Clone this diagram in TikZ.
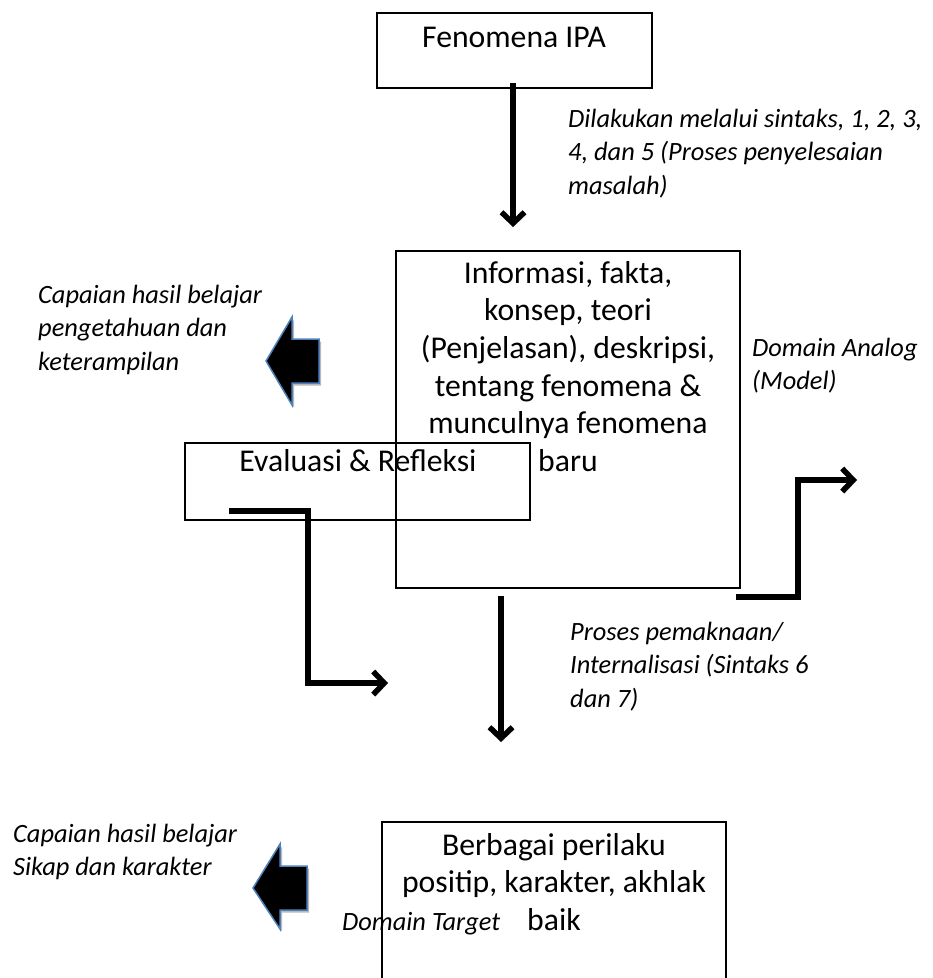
\documentclass[tikz,border=0pt]{standalone}
\usepackage{fontspec}
\setmainfont{Carlito}
\usetikzlibrary{arrows.meta,calc}
\definecolor{arrowblue}{HTML}{4F81BD}
\begin{document}
\begin{tikzpicture}[x=1pt,y=-1pt,
  box/.style={draw, line width=2pt, inner sep=0pt},
  boxfont/.style={font={\fontsize{31.7}{37.7}\selectfont}, inner sep=0pt, anchor=base},
  note/.style={font={\fontsize{26.4}{33.8}\selectfont\itshape}, inner sep=0pt, anchor=base west},
  conn/.style={line width=5.5pt, -{Straight Barb[length=11pt,width=23pt]},
    preaction={draw=black!28, transform canvas={shift={(1.8pt,-2.2pt)}}}},
  bigarrow/.style={fill=black, draw=arrowblue, line width=1.5pt,
    preaction={fill=black!28, draw=none, transform canvas={shift={(2pt,-2.5pt)}}}}
]
\useasboundingbox (0,0) rectangle (933,978);
\clip (0,0) rectangle (933,978);

% boxes
\node[box, minimum width=275pt, minimum height=75pt] (fen) at (514.5,50.5) {};
\node[boxfont] (fentext) at (514,47.5) {Fenomena IPA};

\node[box, minimum width=344pt, minimum height=337pt] (info) at (568,419.5) {};
\node[boxfont] (infotext) at (568,283) {\begin{tabular}[t]{@{}c@{}}Informasi, fakta,\\konsep, teori\\(Penjelasan), deskripsi,\\tentang fenomena \&\\munculnya fenomena\\baru\end{tabular}};

\node[box, minimum width=345pt, minimum height=77pt] (eval) at (357.5,481.5) {};
\node[boxfont] (evaltext) at (358,471) {Evaluasi \& Refleksi};

\node[box, minimum width=344pt, minimum height=170pt] (target) at (554,907) {};
\node[boxfont] (targettext) at (554,855) {\begin{tabular}[t]{@{}c@{}}Berbagai perilaku\\positip, karakter, akhlak\\baik\end{tabular}};

% side notes
\node[note] (n1) at (568,127) {\begin{tabular}[t]{@{}l@{}}Dilakukan melalui sintaks, 1, 2, 3,\\4, dan 5 (Proses penyelesaian\\masalah)\end{tabular}};
\node[note] (n2) at (38,303) {\begin{tabular}[t]{@{}l@{}}Capaian hasil belajar\\pengetahuan dan\\keterampilan\end{tabular}};
\node[note] (n3) at (752,356) {\begin{tabular}[t]{@{}l@{}}Domain Analog\\(Model)\end{tabular}};
\node[note] (n4) at (570,640) {\begin{tabular}[t]{@{}l@{}}Proses pemaknaan/\\Internalisasi (Sintaks 6\\dan 7)\end{tabular}};
\node[note] (n5) at (13,842) {\begin{tabular}[t]{@{}l@{}}Capaian hasil belajar\\Sikap dan karakter\end{tabular}};
\node[note] (n6) at (342,930.5) {Domain Target};

% connectors
\coordinate (d1s) at ($(fen.south)+(-1.5,-6)$);
\coordinate (d1e) at (513,227);
\draw[conn] (d1s) -- (d1e);

\coordinate (e1s) at ($(eval.south west)+(45,-10)$);
\coordinate (e1e) at (388,683);
\draw[conn] (e1s) -- ++(79,0) |- (e1e);

\coordinate (r1s) at ($(info.south east)+(-5,8)$);
\coordinate (r1e) at (857,480);
\draw[conn] (r1s) -- ++(62,0) |- (r1e);

\coordinate (d2s) at (501,596);
\coordinate (d2e) at (501,742);
\draw[conn] (d2s) -- (d2e);

% block arrows
\draw[bigarrow] (266,361) -- (292,317) -- (292,339) -- (319,339) -- (319,383) -- (292,383) -- (292,405) -- cycle;
\draw[bigarrow] (253,888) -- (280,844) -- (280,866) -- (307,866) -- (307,910) -- (280,910) -- (280,929) -- cycle;
\end{tikzpicture}
\end{document}
